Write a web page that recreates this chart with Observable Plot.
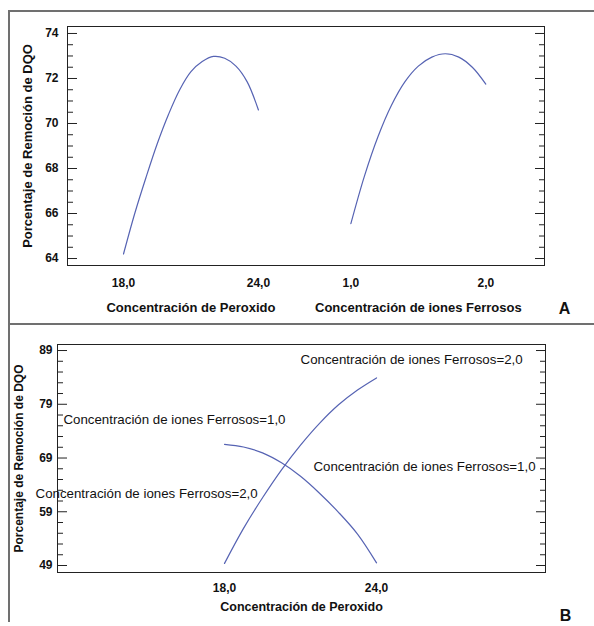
<!DOCTYPE html>
<html><head><meta charset="utf-8">
<script src="https://cdn.jsdelivr.net/npm/d3@7"></script>
<script src="https://cdn.jsdelivr.net/npm/@observablehq/plot@0.6"></script>
<style>
body{margin:0;background:#fff;}
#wrap{position:relative;width:594px;height:626px;overflow:hidden;font-family:"Liberation Sans",Arial,sans-serif;}
.ln{position:absolute;background:#707070;}
#top,#bot{position:absolute;left:0;}
#top{top:0}
#bot{top:324px}
</style></head><body>
<div id="wrap">
<div id="top"></div><div id="bot"></div>
<div class="ln" style="left:8px;top:10px;width:586px;height:2px"></div>
<div class="ln" style="left:8px;top:10px;width:2px;height:612px"></div>
<div class="ln" style="left:8px;top:323px;width:586px;height:2px"></div>
</div>
<script>
// ---- Panel A: main effects ----
const peroxideLevels = [18, 24];
const peroxideTickLabels = ["18,0", "24,0"];
const ferrousLevels = [1, 2];
const ferrousTickLabels = ["1,0", "2,0"];
const factorTitles = ["Concentración de Peroxido", "Concentración de iones Ferrosos"];
const yTitle = "Porcentaje de Remoción de DQO";

const peroxideX = [18, 18.5, 19, 19.5, 20, 20.5, 21, 21.5, 22, 22.5, 23, 23.5, 24];
const peroxideRemoval = [64.2, 66.0, 67.6, 69.1, 70.4, 71.5, 72.3, 72.75, 72.98, 72.9, 72.55, 71.85, 70.6];
const ferrousX = [1.0, 1.1, 1.2, 1.3, 1.4, 1.5, 1.6, 1.7, 1.8, 1.9, 2.0];
const ferrousRemoval = [65.55, 67.65, 69.4, 70.8, 71.85, 72.55, 72.95, 73.1, 72.95, 72.5, 71.75];

const yMajorA = [64, 66, 68, 70, 72, 74];

// ---- Panel B: interaction ----
const interPeroxideX = [18, 18.75, 19.5, 20.25, 21, 21.75, 22.5, 23.25, 24];
const ferrous1Removal = [71.55, 71.05, 69.95, 68.1, 65.6, 62.45, 58.9, 54.85, 49.5];
const ferrous2Removal = [49.4, 55.9, 61.6, 66.8, 71.4, 75.45, 78.9, 81.65, 83.9];
const seriesNames = ["Concentración de iones Ferrosos=1,0", "Concentración de iones Ferrosos=2,0"];
const labelText = [seriesNames[1], seriesNames[0], seriesNames[0], seriesNames[1]];
const labelX = [21.0, 21.51, 11.64, 10.54];
const labelY = [87.3, 67.4, 76.2, 62.4];
const yMajorB = [49, 59, 69, 79, 89];

const lineColor = "#5663b3";
const fontFamily = "'Liberation Sans', Arial, sans-serif";

// coded positions for the combined main-effects axis
const offsetF = 3.37;
const posP = v => (v - (peroxideLevels[0] + peroxideLevels[1]) / 2) / ((peroxideLevels[1] - peroxideLevels[0]) / 2);
const posF = v => (v - (ferrousLevels[0] + ferrousLevels[1]) / 2) / ((ferrousLevels[1] - ferrousLevels[0]) / 2) + offsetF;

const dataA = [
  ...peroxideX.map((x, i) => ({pos: posP(x), y: peroxideRemoval[i], factor: "P"})),
  ...ferrousX.map((x, i) => ({pos: posF(x), y: ferrousRemoval[i], factor: "F"}))
];
const xTicksA = [
  ...peroxideLevels.map((v, i) => ({pos: posP(v), label: peroxideTickLabels[i]})),
  ...ferrousLevels.map((v, i) => ({pos: posF(v), label: ferrousTickLabels[i]}))
];
const xTitlesA = [
  {pos: posP((peroxideLevels[0] + peroxideLevels[1]) / 2), label: factorTitles[0]},
  {pos: posF((ferrousLevels[0] + ferrousLevels[1]) / 2), label: factorTitles[1]}
];
const minorA = d3.range(64, 74.01, 0.5).filter(v => !yMajorA.includes(v));

function yTicks(majors, minors, majLen, minLen) {
  return [
    Plot.axisY(majors, {anchor: "left", tickSize: -majLen, fill: "none", label: null, stroke: "#222"}),
    Plot.axisY(minors, {anchor: "left", tickSize: -minLen, fill: "none", label: null, stroke: "#222"}),
    Plot.axisY(majors, {anchor: "right", tickSize: -majLen, fill: "none", label: null, stroke: "#222"}),
    Plot.axisY(minors, {anchor: "right", tickSize: -minLen, fill: "none", label: null, stroke: "#222"})
  ];
}

const chartA = Plot.plot({
  width: 594, height: 324,
  marginLeft: 67, marginRight: 50, marginTop: 26, marginBottom: 59,
  style: {fontFamily, fontSize: "12px", fontWeight: "bold", color: "#111", background: "transparent"},
  x: {domain: [-1.83, 5.24], axis: null},
  y: {domain: [63.69, 74.31], axis: null},
  marks: [
    ...yTicks(yMajorA, minorA, 10, 6),
    Plot.axisY(yMajorA, {anchor: "left", tickSize: 0, tickPadding: 9, label: null, fontSize: 12, fontWeight: "bold"}),
    Plot.line(dataA, {x: "pos", y: "y", z: "factor", stroke: lineColor, strokeWidth: 1.2, curve: "catmull-rom"}),
    Plot.frame({stroke: "#222", strokeWidth: 1}),
    Plot.text(xTicksA, {x: "pos", text: "label", frameAnchor: "bottom", dy: 21, fontSize: 12, fontWeight: "bold"}),
    Plot.text(xTitlesA, {x: "pos", text: "label", frameAnchor: "bottom", dy: 46, fontSize: 13, fontWeight: "bold"}),
    Plot.text([yTitle], {frameAnchor: "left", textAnchor: "middle", lineAnchor: "middle", rotate: -90, dx: -40, fontSize: 13, fontWeight: "bold"}),
    Plot.text(["A"], {frameAnchor: "bottom-right", textAnchor: "middle", lineAnchor: "middle", dx: 20, dy: 43, fontSize: 16, fontWeight: "bold"})
  ]
});
document.getElementById("top").appendChild(chartA);

const dataB = [
  ...interPeroxideX.map((x, i) => ({x, y: ferrous1Removal[i], s: seriesNames[0]})),
  ...interPeroxideX.map((x, i) => ({x, y: ferrous2Removal[i], s: seriesNames[1]}))
];
const labelsB = labelText.map((t, i) => ({t, x: labelX[i], y: labelY[i]}));
const xTicksB = peroxideLevels.map((v, i) => ({x: v, label: peroxideTickLabels[i]}));
const minorB = d3.range(49, 89.1, 2).filter(v => !yMajorB.includes(v));

const chartB = Plot.plot({
  width: 594, height: 302,
  marginLeft: 57, marginRight: 49, marginTop: 20, marginBottom: 54,
  style: {fontFamily, fontSize: "12px", fontWeight: "bold", color: "#111", background: "transparent"},
  x: {domain: [11.407, 30.67], axis: null},
  y: {domain: [47.7, 90.12], axis: null},
  marks: [
    ...yTicks(yMajorB, minorB, 10, 6),
    Plot.axisY(yMajorB, {anchor: "left", tickSize: 0, tickPadding: 5, label: null, fontSize: 12, fontWeight: "bold"}),
    Plot.line(dataB, {x: "x", y: "y", z: "s", stroke: lineColor, strokeWidth: 1.2, curve: "catmull-rom"}),
    Plot.frame({stroke: "#222", strokeWidth: 1}),
    Plot.text(labelsB, {x: "x", y: "y", text: "t", textAnchor: "start", fontSize: 13.3, fontWeight: "normal"}),
    Plot.text(xTicksB, {x: "x", text: "label", frameAnchor: "bottom", dy: 19, fontSize: 12, fontWeight: "bold"}),
    Plot.text([factorTitles[0]], {frameAnchor: "bottom", dy: 38, fontSize: 12.5, fontWeight: "bold"}),
    Plot.text([yTitle], {frameAnchor: "left", textAnchor: "middle", lineAnchor: "middle", rotate: -90, dx: -38, fontSize: 12, fontWeight: "bold"}),
    Plot.text(["B"], {frameAnchor: "bottom-right", textAnchor: "middle", lineAnchor: "middle", dx: 20, dy: 43, fontSize: 16, fontWeight: "bold"})
  ]
});
document.getElementById("bot").appendChild(chartB);
</script>
</body></html>
